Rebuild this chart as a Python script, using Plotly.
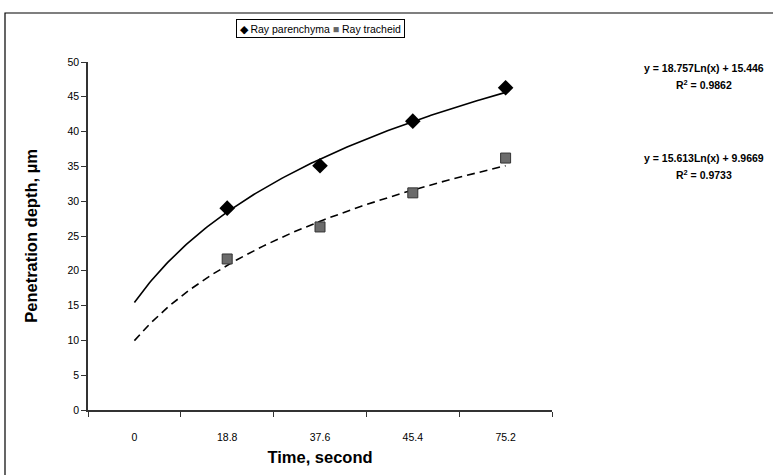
import numpy as np
import plotly.graph_objects as go

# ---- data ----
time_labels = ["0", "18.8", "37.6", "45.4", "75.2"]
cat_pos = [1, 2, 3, 4, 5]
parenchyma_x = [2, 3, 4, 5]
parenchyma_y = [29.0, 35.1, 41.5, 46.3]
tracheid_x = [2, 3, 4, 5]
tracheid_y = [21.7, 26.3, 31.2, 36.2]
# printed trendline coefficients: y = a*ln(x) + b
parenchyma_fit = [18.757, 15.446]
tracheid_fit = [15.613, 9.9669]
parenchyma_eq = ["y = 18.757Ln(x) + 15.446", "R<sup>2</sup> = 0.9862"]
tracheid_eq = ["y = 15.613Ln(x) + 9.9669", "R<sup>2</sup> = 0.9733"]
series_names = ["Ray parenchyma", "Ray tracheid"]
y_ticks = [0, 5, 10, 15, 20, 25, 30, 35, 40, 45, 50]

W, H = 773, 475
L, R, T, B = 88, 221, 62, 65
pw, ph = W - L - R, H - T - B

def px_x(x):
    return (x - L) / pw

def px_y(y):
    return (H - B - y) / ph

xs = np.linspace(cat_pos[0], cat_pos[-1], 200)
font_family = "Liberation Sans, Arial, sans-serif"

fig = go.Figure()
fig.add_trace(go.Scatter(
    x=xs, y=parenchyma_fit[0] * np.log(xs) + parenchyma_fit[1],
    mode="lines", line=dict(color="black", width=1.6), showlegend=False,
    hoverinfo="skip"))
fig.add_trace(go.Scatter(
    x=xs, y=tracheid_fit[0] * np.log(xs) + tracheid_fit[1],
    mode="lines", line=dict(color="black", width=1.6, dash="8px,5px"),
    showlegend=False, hoverinfo="skip"))
fig.add_trace(go.Scatter(
    x=parenchyma_x, y=parenchyma_y, mode="markers", name=series_names[0],
    showlegend=False,
    marker=dict(symbol="diamond", size=12, color="black")))
fig.add_trace(go.Scatter(
    x=tracheid_x, y=tracheid_y, mode="markers", name=series_names[1],
    showlegend=False,
    marker=dict(symbol="square", size=10, color="#6b6b6b",
                line=dict(color="#333333", width=1))))

fig.update_layout(
    width=W, height=H,
    margin=dict(l=L, r=R, t=T, b=B, autoexpand=False),
    paper_bgcolor="white", plot_bgcolor="white",
    font=dict(family=font_family, color="black"),
    showlegend=False,
    xaxis=dict(
        range=[0.5, 5.5], tickmode="array", tickvals=cat_pos,
        ticktext=time_labels, ticks="outside", ticklen=17,
        tickcolor="rgba(0,0,0,0)", showgrid=False, zeroline=False,
        showline=True, linecolor="#333333", linewidth=1.5,
        tickfont=dict(size=10.5, family=font_family),
        minor=dict(tickvals=[0.5, 1.5, 2.5, 3.5, 4.5, 5.5], ticks="outside",
                   ticklen=5, tickcolor="#333333", tickwidth=1,
                   showgrid=False),
        title=dict(text="<b>Time, second</b>", font=dict(size=16.5),
                   standoff=9),
    ),
    yaxis=dict(
        range=[0, 50], tickmode="array", tickvals=y_ticks,
        ticks="outside", ticklen=5, tickcolor="#333333",
        showgrid=False, zeroline=False, showline=True,
        linecolor="#333333", linewidth=1.5,
        tickfont=dict(size=10.5, family=font_family),
        title=dict(text="<b>Penetration depth, µm</b>", font=dict(size=16.5),
                   standoff=26),
    ),
)

# outer chart frame (partly cropped in the reference)
fig.add_shape(type="rect", xref="paper", yref="paper",
              x0=px_x(5), x1=px_x(800), y0=px_y(500), y1=px_y(13),
              line=dict(color="black", width=1.2), fillcolor="rgba(0,0,0,0)",
              layer="below")

# compact Excel-style legend box
legend_text = ("◆ " + series_names[0] +
               " <span style='color:#666666'>■</span> " + series_names[1])
fig.add_annotation(x=px_x(320), y=px_y(29), xref="paper", yref="paper",
                   text=legend_text, showarrow=False,
                   font=dict(size=10.5, family=font_family),
                   xanchor="center", yanchor="middle",
                   bordercolor="black", borderwidth=1, borderpad=2.5,
                   bgcolor="white")

for eq, (y1, y2) in [(parenchyma_eq, (68, 84)), (tracheid_eq, (158, 174))]:
    for txt, yy in zip(eq, (y1, y2)):
        fig.add_annotation(x=px_x(704), y=px_y(yy), xref="paper", yref="paper",
                           text="<b>" + txt + "</b>", showarrow=False,
                           font=dict(size=10.5, family=font_family),
                           xanchor="center", yanchor="middle")

fig.write_html("out.html",
               config={"displayModeBar": False},
               post_script="document.body.style.margin='0';")
